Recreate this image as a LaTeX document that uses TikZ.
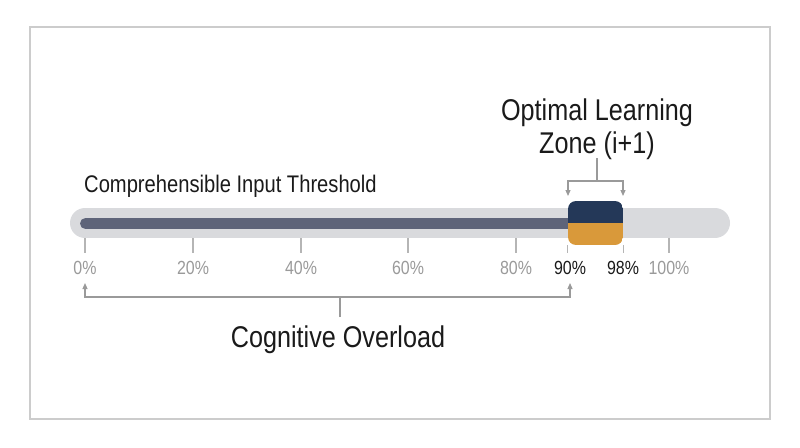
\documentclass[tikz,border=0pt]{standalone}
\usepackage{fontspec}
\setmainfont{Liberation Sans}[FakeStretch=0.84]
\usetikzlibrary{arrows.meta,positioning}

\definecolor{framegray}{HTML}{CCCCCC}
\definecolor{trackgray}{HTML}{D9DADD}
\definecolor{barslate}{HTML}{5E6479}
\definecolor{zonenavy}{HTML}{243858}
\definecolor{zoneorange}{HTML}{D9993A}
\definecolor{tickgray}{HTML}{B5B5B5}
\definecolor{labelgray}{HTML}{9A9A9A}
\definecolor{textdark}{HTML}{1A1A1A}

\begin{document}
\begin{tikzpicture}[x=1pt, y=-1pt,
  tickline/.style={draw=tickgray, line width=1.2pt},
  pct/.style={text=labelgray, font=\fontsize{19}{21}\selectfont, inner sep=0pt},
  pctdark/.style={pct, text=textdark},
  bracket/.style={draw=labelgray, line width=1.2pt},
  bracketarrow/.style={bracket, -{Triangle[length=6pt, width=5pt]}},
  title/.style={text=textdark, inner sep=0pt, align=center}
]
\useasboundingbox (0,0) rectangle (800,447);

% frame
\draw[framegray, line width=1.2pt] (30,27) rectangle (770,419);

% track and filled part
\draw[trackgray, line width=30pt, line cap=round] (85,223) -- (715,223);
\draw[barslate, line width=11pt, line cap=round] (85.5,223.5) -- (572,223.5);

% optimal zone block
\node (zone) [minimum width=55pt, minimum height=44pt, inner sep=0pt,
  rounded corners=8pt,
  path picture={
    \fill[zonenavy, sharp corners] (path picture bounding box.north west) rectangle (path picture bounding box.east);
    \fill[zoneorange, sharp corners] (path picture bounding box.west) rectangle (path picture bounding box.south east);
  }] at (595.5,223) {};

% ticks and percentages
\foreach \x/\p in {85/0, 193/20, 301/40, 408/60, 516/80, 669/100} {
  \draw[tickline] (\x,238) -- (\x,253);
  \node (p\p) [pct] at (\x,268) {\p\%};
}
\draw[tickline] (zone.south west) -- ++(0,8);
\draw[tickline] (zone.south east) -- ++(0,8);
\node (p90) [pctdark] at (570,268) {90\%};
\node (p98) [pctdark] at (623,268) {98\%};

% labels
\node (threshold) [title, anchor=west, font=\fontsize{24}{26}\selectfont] at (84,186) {Comprehensible Input Threshold};
\node (optimal) [title, font=\fontsize{30}{33}\selectfont] at (597,129) {Optimal Learning\\Zone (i+1)};
\node (overload) [title, font=\fontsize{30}{32}\selectfont] at (338,340) {Cognitive Overload};

% top bracket
\coordinate (tl) at (568,181);
\coordinate (tr) at (623,181);
\coordinate (tm) at (597,181);
\draw[bracket] (597,158) -- (tm);
\draw[bracketarrow] (tm) -- (tl) -- (568,196);
\draw[bracketarrow] (tm) -- (tr) -- (623,196);

% bottom bracket
\coordinate (bl) at (85,297);
\coordinate (br) at (570,297);
\coordinate (bm) at (340,297);
\draw[bracket] (340,317) -- (bm);
\draw[bracketarrow] (bm) -- (bl) -- (85,283);
\draw[bracketarrow] (bm) -- (br) -- (570,283);

\end{tikzpicture}
\end{document}
